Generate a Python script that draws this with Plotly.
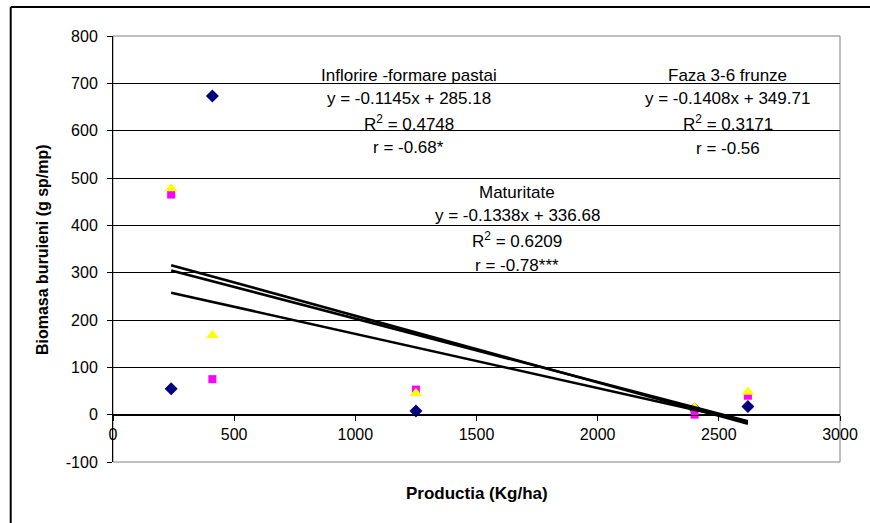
import plotly.graph_objects as go

# ---- data ----
productia = [240, 410, 1250, 2400, 2620]
faza_3_6 = [55, 673, 8, 12, 17]          # navy diamonds
inflorire = [465, 75, 53, 0, 40]          # magenta squares
maturitate = [478, 168, 45, 15, 48]       # yellow triangles

trend_names = ["Faza 3-6 frunze", "Inflorire -formare pastai", "Maturitate"]
trend_slopes = [-0.1408, -0.1145, -0.1338]
trend_intercepts = [349.71, 285.18, 336.68]

x_ticks = [0, 500, 1000, 1500, 2000, 2500, 3000]
y_ticks = [-100, 0, 100, 200, 300, 400, 500, 600, 700, 800]
y_tick_labels = ["-100", "0", "100", "200", "300", "400", "500", "600", "700", "800"]

FONT = "Liberation Sans, Arial, sans-serif"

fig = go.Figure()

fig.add_trace(go.Scatter(x=productia, y=faza_3_6, mode="markers",
                         marker=dict(symbol="diamond", size=10, color="#000080"),
                         name="Faza 3-6 frunze"))
fig.add_trace(go.Scatter(x=productia, y=inflorire, mode="markers",
                         marker=dict(symbol="square", size=8, color="#FF00FF"),
                         name="Inflorire -formare pastai"))
fig.add_trace(go.Scatter(x=productia, y=maturitate, mode="markers",
                         marker=dict(symbol="triangle-up", size=11, color="#FFFF00"),
                         name="Maturitate"))

xmin, xmax = min(productia), max(productia)
for name, a, b in zip(trend_names, trend_slopes, trend_intercepts):
    fig.add_trace(go.Scatter(x=[xmin, xmax], y=[a * xmin + b, a * xmax + b],
                             mode="lines", line=dict(color="black", width=2.6),
                             name=name + " trend", hoverinfo="skip"))

# annotation blocks
def block(x, ys, texts):
    for y, t in zip(ys, texts):
        fig.add_annotation(x=x, y=y, xref="x", yref="y", text=t, showarrow=False,
                           font=dict(family=FONT, size=17, color="black"),
                           xanchor="center", yanchor="middle")

block(1221, [717, 667, 616, 565],
      ["Inflorire -formare pastai", "y = -0.1145x + 285.18",
       "R<sup>2</sup> = 0.4748", "r = -0.68*"])
block(2537, [717, 667, 616, 563],
      ["Faza 3-6 frunze", "y = -0.1408x + 349.71",
       "R<sup>2</sup> = 0.3171", "r = -0.56"])
block(1668, [470, 421, 369, 316],
      ["Maturitate", "y = -0.1338x + 336.68",
       "R<sup>2</sup> = 0.6209", "r = -0.78***"])

# axis titles
fig.add_annotation(x=0.5, y=-0.074, xref="paper", yref="paper",
                   text="<b>Productia (Kg/ha)</b>", showarrow=False,
                   font=dict(family=FONT, size=17, color="black"),
                   xanchor="center", yanchor="middle")
fig.add_annotation(x=-0.096, y=0.498, xref="paper", yref="paper",
                   text="<b>Biomasa buruieni (g sp/mp)</b>", showarrow=False,
                   textangle=-90,
                   font=dict(family=FONT, size=16, color="black"),
                   xanchor="center", yanchor="middle")

# plot-area border
fig.add_shape(type="rect", xref="paper", yref="paper", x0=0, y0=0, x1=1, y1=1,
              line=dict(color="#808080", width=1), layer="below")
# outer frame: left and top edges
fig.add_shape(type="line", xref="paper", yref="paper", x0=-0.1407, y0=-0.3, x1=-0.1407, y1=1.068,
              line=dict(color="black", width=2))
fig.add_shape(type="line", xref="paper", yref="paper", x0=-0.1407, y0=1.068, x1=1.2, y1=1.068,
              line=dict(color="black", width=2))

fig.update_layout(
    width=870, height=523,
    margin=dict(l=113, r=25, t=36, b=61),
    paper_bgcolor="white", plot_bgcolor="white",
    showlegend=False,
    font=dict(family=FONT, size=16, color="black"),
    xaxis=dict(range=[0, 3000], tickvals=x_ticks, ticks="outside", ticklen=5,
               tickcolor="black", showline=True, linecolor="black", linewidth=1,
               showgrid=False, zeroline=False, anchor="free", position=100 / 900,
               ticklabeloverflow="allow",
               tickfont=dict(family=FONT, size=16, color="black")),
    yaxis=dict(range=[-100, 800], tickvals=y_ticks, ticktext=y_tick_labels,
               ticks="outside", ticklen=5,
               tickcolor="black", showline=True, linecolor="black", linewidth=1,
               showgrid=True, gridcolor="black", gridwidth=1, zeroline=False,
               ticklabelstandoff=6,
               tickfont=dict(family=FONT, size=16, color="black")),
)

fig.write_html("out.html",
               config={"displayModeBar": False},
               post_script="document.body.style.margin='0';document.body.style.overflow='hidden';")
